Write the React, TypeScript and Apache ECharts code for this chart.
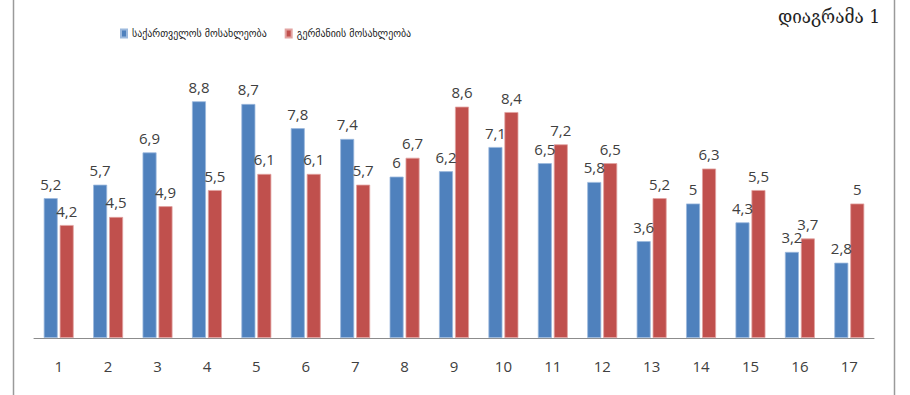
import React, { useEffect, useRef } from "react";
import * as echarts from "echarts";

const categories = ["1", "2", "3", "4", "5", "6", "7", "8", "9", "10", "11", "12", "13", "14", "15", "16", "17"];
const georgiaValues = [5.2, 5.7, 6.9, 8.8, 8.7, 7.8, 7.4, 6, 6.2, 7.1, 6.5, 5.8, 3.6, 5, 4.3, 3.2, 2.8];
const germanyValues = [4.2, 4.5, 4.9, 5.5, 6.1, 6.1, 5.7, 6.7, 8.6, 8.4, 7.2, 6.5, 5.2, 6.3, 5.5, 3.7, 5];
const seriesNames = ["საქართველოს მოსახლეობა", "გერმანიის მოსახლეობა"];
const titleText = "დიაგრამა 1";

const commaFormat = (p: any) => String(p.value).replace(".", ",");

export default function App() {
  const ref = useRef<HTMLDivElement>(null);

  useEffect(() => {
    if (!ref.current) return;
    const chart = echarts.init(ref.current, null, { renderer: "svg" });
    const labelStyle = {
      show: true,
      position: "top" as const,
      distance: 7,
      formatter: commaFormat,
      color: "#404040",
      fontFamily: "Open Sans",
      fontSize: 15,
    };
    chart.setOption({
      animation: false,
      backgroundColor: "#ffffff",
      grid: { left: 34, right: 36, top: 69, bottom: 57 },
      legend: {
        top: 23,
        left: 115,
        itemWidth: 6,
        itemHeight: 8,
        itemGap: 18,
        icon: "rect",
        textStyle: { fontFamily: "DejaVu Sans Condensed", fontSize: 11, color: "#222" },
        data: seriesNames,
      },
      xAxis: {
        type: "category",
        data: categories,
        axisLine: { lineStyle: { color: "#8c8c8c", width: 1 } },
        axisTick: { show: false },
        axisLabel: { color: "#404040", fontFamily: "Open Sans", fontSize: 15, margin: 20 },
      },
      yAxis: {
        type: "value",
        min: 0,
        max: 10,
        show: false,
        splitLine: { show: false },
      },
      series: [
        {
          name: seriesNames[0],
          type: "bar",
          data: georgiaValues,
          barWidth: 14,
          barGap: "14%",
          itemStyle: { color: "#4f81bd", borderColor: "#9cb9dd", borderWidth: 0.8 },
          label: labelStyle,
        },
        {
          name: seriesNames[1],
          type: "bar",
          data: germanyValues,
          barWidth: 14,
          itemStyle: { color: "#c0504d", borderColor: "#e2a3a1", borderWidth: 0.8 },
          label: labelStyle,
        },
      ],
      graphic: [
        { type: "line", shape: { x1: 13.5, y1: 0, x2: 13.5, y2: 395 }, style: { stroke: "#9a9a9a", lineWidth: 1.5 } },
        { type: "line", shape: { x1: 894.5, y1: 0, x2: 894.5, y2: 395 }, style: { stroke: "#9a9a9a", lineWidth: 1.5 } },
        {
          type: "text",
          right: 30,
          top: 6,
          style: { text: titleText, fontFamily: "DejaVu Serif Condensed, DejaVu Serif", fontSize: 19, fill: "#222" },
        },
      ],
    });
    return () => chart.dispose();
  }, []);

  return (
    <div
      ref={ref}
      style={{ position: "absolute", left: 0, top: 0, width: 910, height: 395 }}
    />
  );
}
